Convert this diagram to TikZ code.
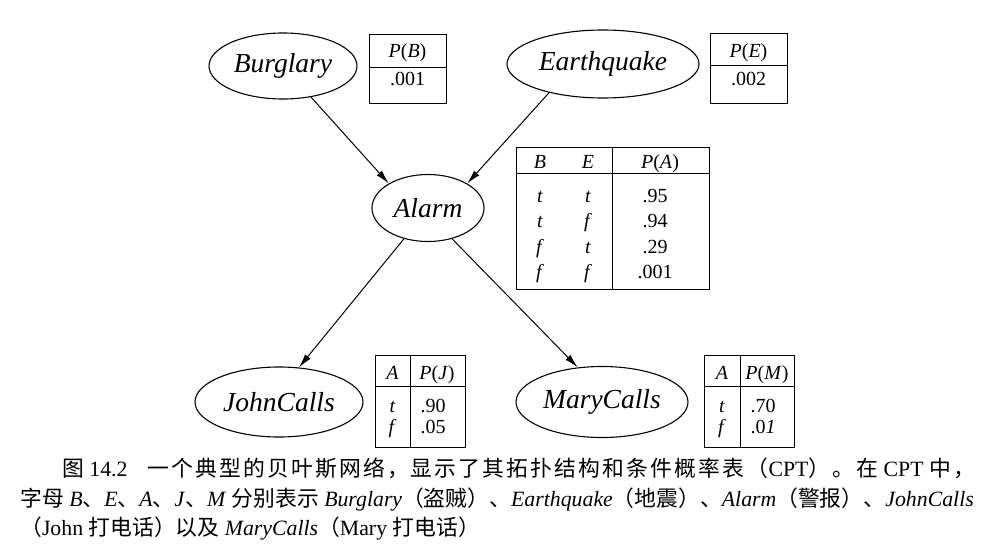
\documentclass[tikz,border=0pt]{standalone}
\usepackage{fontspec}
\setmainfont{Liberation Serif}
\newfontfamily\cjk{Noto Sans CJK SC}
\newfontfamily\cjkw[LetterSpace=10]{Noto Sans CJK SC}
\usetikzlibrary{shapes.geometric,arrows.meta}
\begin{document}
\begin{tikzpicture}[x=1pt,y=-1pt,
  var/.style={ellipse,draw,line width=1.1pt,inner sep=0pt,font=\fontsize{27.5}{30}\selectfont\itshape},
  arr/.style={-{Latex[length=14pt,width=7pt]},line width=1pt},
  tbl/.style={line width=1pt},
  cell/.style={font=\fontsize{20}{22}\selectfont,inner sep=0pt,anchor=base},
  captxt/.style={font=\fontsize{21.8}{24}\selectfont,inner sep=0pt,anchor=base west}]
\useasboundingbox (0,0) rectangle (1005,546);
% variables
\node[var,minimum width=148pt,minimum height=66pt] (b) at (283,66) {Burglary};
\node[var,minimum width=192pt,minimum height=68pt] (e) at (603,64) {Earthquake};
\node[var,minimum width=112pt,minimum height=67pt] (a) at (428,208) {Alarm};
\node[var,minimum width=168pt,minimum height=70pt] (j) at (279,402) {JohnCalls};
\node[var,minimum width=172pt,minimum height=71pt] (m) at (602,402) {MaryCalls};
% arrows
\draw[arr] (b.-48) -- (a.148);
\draw[arr] (e.-152) -- (a.32);
\draw[arr] (a.-128) -- (j.60);
\draw[arr] (a.-52) -- (m.125);
% P(B) table
\draw[tbl] (369,34) rectangle (446,103) (369,67) -- (446,67);
\node[cell] (pbh) at (407.5,57) {\textit{P}(\textit{B})};
\node[cell] (pbv) at (407.5,85) {.001};
% P(E) table
\draw[tbl] (710,33) rectangle (787,103) (710,65) -- (787,65);
\node[cell] (peh) at (748.5,57) {\textit{P}(\textit{E})};
\node[cell] (pev) at (748.5,85) {.002};
% P(A) table
\draw[tbl] (516,147) rectangle (709,289) (516,173) -- (709,173) (612,147) -- (612,289);
\node[cell] (ab) at (540,168) {\textit{B}};
\node[cell] (ae) at (588,168) {\textit{E}};
\node[cell] (ap) at (660,168) {\textit{P}(\textit{A})};
\foreach \bb/\ee/\pp/\yy [count=\i] in {t/t/.95/202, t/f/.94/227.5, f/t/.29/253, f/f/.001/278.5}{
  \node[cell] (ab\i) at (540,\yy) {\textit{\bb}};
  \node[cell] (ae\i) at (588,\yy) {\textit{\ee}};
  \node[cell] (ap\i) at (655,\yy) {\pp};
}
% P(J) table
\draw[tbl] (375,355) rectangle (465,447) (375,386) -- (465,386) (410,355) -- (410,447);
\node[cell] (ja) at (392.5,379) {\textit{A}};
\node[cell] (jp) at (437,379) {\textit{P}(\textit{J})};
\node[cell] (jt) at (392.5,412) {\textit{t}};
\node[cell] (jf) at (392.5,433) {\textit{f}};
\node[cell] (jv1) at (433,412) {.90};
\node[cell] (jv2) at (433,433) {.05};
% P(M) table
\draw[tbl] (704,355) rectangle (794,447) (704,386) -- (794,386) (740,355) -- (740,447);
\node[cell] (ma) at (722,379) {\textit{A}};
\node[cell] (mp) at (767,379) {\textit{P}(\textit{M})};
\node[cell] (mt) at (722,412) {\textit{t}};
\node[cell] (mf) at (722,433) {\textit{f}};
\node[cell] (mv1) at (763,412) {.70};
\node[cell] (mv2) at (763,433) {.0\textit{1}};
% caption
\node[captxt] (c1) at (62,476) {{\cjkw 图} 14.2\hspace{0.9em}{\cjkw 一个典型的贝叶斯网络，显示了其拓扑结构和条件概率表（}CPT{\cjkw ）。在} CPT {\cjkw 中，}};
\node[captxt] (c2) at (20,506) {{\cjk 字母} \textit{B}{\cjk 、}\textit{E}{\cjk 、}\textit{A}{\cjk 、}\textit{J}{\cjk 、}\textit{M} {\cjk 分别表示} \textit{Burglary}{\cjk （盗贼）、}\textit{Earthquake}{\cjk （地震）、}\textit{Alarm}{\cjk （警报）、}\textit{JohnCalls}};
\node[captxt] (c3) at (20,535) {{\cjk （}John {\cjk 打电话）以及} \textit{MaryCalls}{\cjk （}Mary {\cjk 打电话）}};
\end{tikzpicture}
\end{document}
